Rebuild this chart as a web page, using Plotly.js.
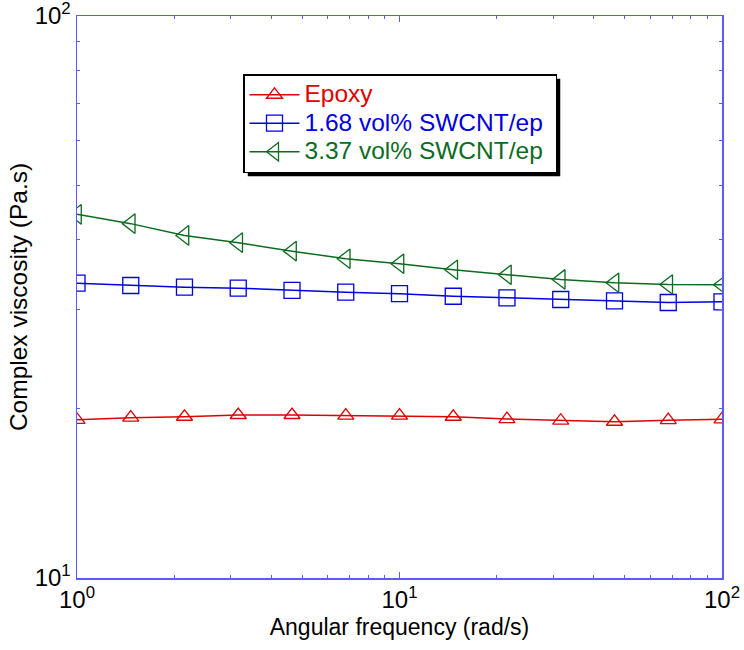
<!DOCTYPE html>
<html>
<head>
<meta charset="utf-8">
<script src="https://cdn.plot.ly/plotly-3.0.1.min.js"></script>
<style>html,body{margin:0;padding:0;background:#fff;}#chart{width:744px;height:650px;}</style>
</head>
<body>
<div id="chart"></div>
<script>
// Angular frequency (rad/s)
const freq = [1, 1.468, 2.154, 3.162, 4.642, 6.813, 10, 14.68, 21.54, 31.62, 46.42, 68.13, 100];
// Complex viscosity (Pa.s)
const epoxy = [19.12, 19.29, 19.36, 19.50, 19.50, 19.45, 19.45, 19.36, 19.18, 19.05, 18.97, 19.09, 19.16];
const swcnt168 = [33.46, 33.15, 32.92, 32.79, 32.48, 32.26, 32.05, 31.72, 31.52, 31.30, 31.13, 30.92, 31.00];
const swcnt337 = [44.37, 42.71, 40.70, 39.51, 38.16, 36.99, 36.24, 35.36, 34.64, 33.98, 33.52, 33.29, 33.25];
const names = ['Epoxy', '1.68 vol% SWCNT/ep', '3.37 vol% SWCNT/ep'];
const colors = ['#e00000', '#0000e0', '#0b6b1e'];
const xTickVals = [1, 10, 100];
const xTickText = ['10<sup>0</sup>', '10<sup>1</sup>', '10<sup>2</sup>'];
const yTickVals = [10, 100];
const yTickText = ['10<sup>1</sup>', '10<sup>2</sup>'];
const xMinor = [2,3,4,5,6,7,8,9,20,30,40,50,60,70,80,90];
const yMinor = [20,30,40,50,60,70,80,90];

const series = [epoxy, swcnt168, swcnt337];
const symbols = ['triangle-up-open', 'square-open', 'triangle-left-open'];
const sizes = [14, 16, 17];
const traces = series.map((s, i) => ({
  x: freq, y: s, type: 'scatter', mode: 'lines+markers',
  name: '<span style="color:' + colors[i] + ';font-size:24.5px">' + names[i] + '&nbsp;</span>',
  line: {color: colors[i], width: 1.5},
  marker: {symbol: symbols[i], size: sizes[i], color: colors[i], line: {color: colors[i], width: 1.3}}
}));

const axisColor = '#5a5aff';
const fam = 'Liberation Sans, Arial, sans-serif';
const layout = {
  width: 744, height: 650,
  margin: {l: 77, r: 22, t: 16, b: 72},
  paper_bgcolor: '#fff', plot_bgcolor: '#fff',
  font: {family: fam, size: 22, color: '#000'},
  showlegend: true,
  legend: {x: (243 - 77) / 645, y: 1 - (74 - 16) / 562, xanchor: 'left', yanchor: 'top', bgcolor: '#fff',
    bordercolor: '#000', borderwidth: 1.5, font: {family: fam, size: 19.6},
    itemwidth: 50, tracegroupgap: 0},
  xaxis: {type: 'log', range: [0, 2], tickmode: 'array', tickvals: xTickVals, ticktext: xTickText,
    showline: true, linecolor: axisColor, linewidth: 1.5, mirror: 'ticks', ticks: 'inside', ticklen: 6,
    tickcolor: axisColor, showgrid: false, zeroline: false, ticklabeloverflow: 'allow',
    minor: {tickmode: 'array', tickvals: xMinor, ticks: 'inside', ticklen: 3, tickcolor: axisColor, showgrid: false},
    tickfont: {size: 24},
    title: {text: 'Angular frequency (rad/s)', font: {size: 23}, standoff: 6}},
  yaxis: {type: 'log', range: [1, 2], tickmode: 'array', tickvals: yTickVals, ticktext: yTickText,
    showline: true, linecolor: axisColor, linewidth: 1.5, mirror: 'ticks', ticks: 'inside', ticklen: 6,
    tickcolor: axisColor, showgrid: false, zeroline: false, ticklabeloverflow: 'allow',
    minor: {tickmode: 'array', tickvals: yMinor, ticks: 'inside', ticklen: 3, tickcolor: axisColor, showgrid: false},
    tickfont: {size: 24},
    title: {text: 'Complex viscosity (Pa.s)', font: {size: 24.5}, standoff: 0}},
  shapes: []
};
Plotly.newPlot('chart', traces, layout, {displayModeBar: false, staticPlot: true}).then(gd => {
  // drop shadow behind the legend box, sized from the rendered legend
  const bg = gd.querySelector('.legend .bg');
  if (!bg) return;
  const r = bg.getBoundingClientRect();
  const c = gd.getBoundingClientRect();
  const fs = gd._fullLayout._size;
  const off = 4;
  const px = v => (v - c.left - fs.l) / fs.w;
  const py = v => 1 - (v - c.top - fs.t) / fs.h;
  Plotly.relayout(gd, {shapes: [{type: 'rect', xref: 'paper', yref: 'paper',
    x0: px(r.left + off), x1: px(r.right + off), y0: py(r.bottom + off), y1: py(r.top + off),
    fillcolor: '#000', line: {width: 0}, layer: 'above'}]});
});
</script>
</body>
</html>
